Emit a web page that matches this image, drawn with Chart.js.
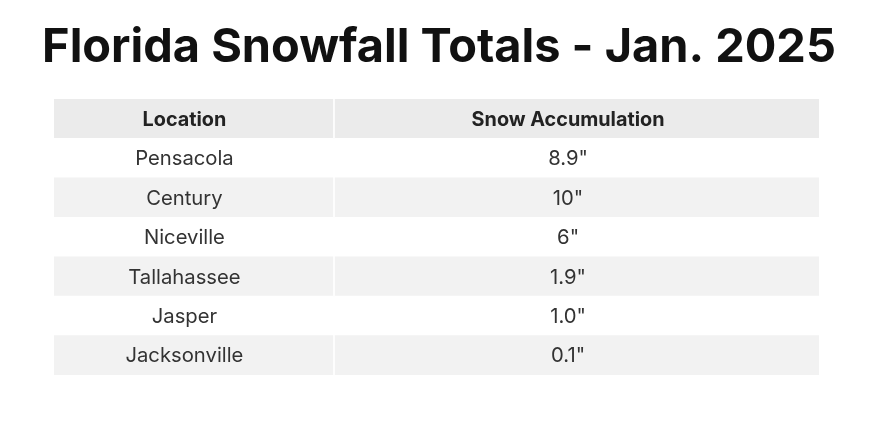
<!DOCTYPE html>
<html>
<head>
<meta charset="utf-8">
<script src="https://cdn.jsdelivr.net/npm/chart.js@4"></script>
<style>
  html, body { margin: 0; padding: 0; background: #fff; }
  #wrap { width: 880px; height: 435px; }
</style>
</head>
<body>
<div id="wrap"><canvas id="c"></canvas></div>
<script>
var titleText = 'Florida Snowfall Totals - Jan. 2025';
var headers = ['Location', 'Snow Accumulation'];
var locations = ['Pensacola', 'Century', 'Niceville', 'Tallahassee', 'Jasper', 'Jacksonville'];
var amounts = ['8.9"', '10"', '6"', '1.9"', '1.0"', '0.1"'];

var rows = [headers[0]].concat(locations);
var cells2 = [headers[1]].concat(amounts);

function rowColor(i) {
    if (i === 0) return '#ebebeb';
    return i % 2 === 0 ? '#f2f2f2' : '#ffffff';
}
var colors = rows.map(function (r, i) { return rowColor(i); });

// pick a font size so that a sample string gets a given width
function fitSize(ctx, weight, family, sample, width) {
    ctx.font = weight + ' 100px ' + family;
    return 100 * width / ctx.measureText(sample).width;
}

var tablePlugin = {
    id: 'tableText',
    afterDatasetsDraw: function (chart) {
        var ctx = chart.ctx;
        ctx.save();
        var fam = 'Inter';
        var ts = fitSize(ctx, 'bold', fam, titleText, 794);
        var bs = fitSize(ctx, 'normal', fam, 'Jacksonville', 118);
        var hs = fitSize(ctx, 'bold', fam, 'Snow Accumulation', 193);
        ctx.fillStyle = '#111';
        ctx.font = 'bold ' + ts + 'px ' + fam;
        ctx.textAlign = 'center';
        ctx.textBaseline = 'middle';
        ctx.fillText(titleText, 439, 48);

        [rows, cells2].forEach(function (texts, d) {
            var meta = chart.getDatasetMeta(d);
            meta.data.forEach(function (bar, i) {
                var cx = (bar.base + bar.x) / 2 - 9;
                ctx.font = (i === 0 ? 'bold ' + hs : 'normal ' + bs) + 'px ' + fam;
                ctx.fillStyle = i === 0 ? '#222' : '#333';
                ctx.fillText(texts[i], cx, bar.y + 1);
            });
        });
        ctx.restore();
    }
};

new Chart(document.getElementById('c'), {
    type: 'bar',
    data: {
        labels: rows,
        datasets: [
            { data: rows.map(function () { return [0, 0.3645]; }), backgroundColor: colors },
            { data: rows.map(function () { return [0.3675, 1]; }), backgroundColor: colors }
        ]
    },
    options: {
        indexAxis: 'y',
        responsive: true,
        maintainAspectRatio: false,
        animation: false,
        layout: { padding: { left: 54, right: 61, top: 99, bottom: 60 } },
        datasets: { bar: { grouped: false, barPercentage: 1, categoryPercentage: 1 } },
        scales: {
            x: { type: 'linear', min: 0, max: 1, display: false },
            y: { display: false, offset: true }
        },
        plugins: { legend: { display: false }, tooltip: { enabled: false }, title: { display: false } }
    },
    plugins: [tablePlugin]
});
</script>
</body>
</html>
